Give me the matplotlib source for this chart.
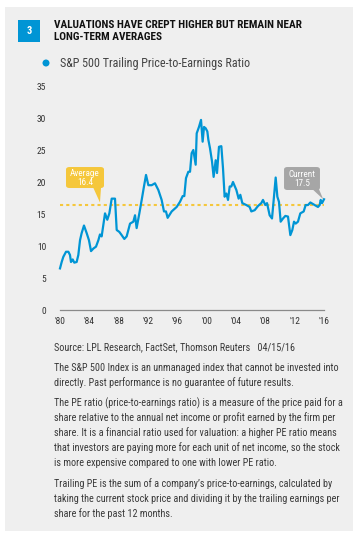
import matplotlib
matplotlib.use("Agg")
import matplotlib.pyplot as plt
from matplotlib.patches import FancyBboxPatch, Polygon, Rectangle, Ellipse
from matplotlib import font_manager

names = {f.name for f in font_manager.fontManager.ttflist}
NARROW = [n for n in ["Liberation Sans Narrow", "Roboto Condensed", "DejaVu Sans"] if n in names]
plt.rcParams['font.family'] = NARROW

# ---------------- data ----------------
years = [1980.0, 1980.23, 1980.45, 1980.82, 1981.14, 1981.36, 1981.5, 1981.73, 1981.95,
         1982.27, 1982.5, 1982.73, 1982.95, 1983.27, 1983.64, 1983.95, 1984.23, 1984.55,
         1984.91, 1985.23, 1985.45, 1985.68, 1985.91, 1986.14, 1986.45, 1986.73, 1987.05,
         1987.5, 1987.73, 1988.09, 1988.41, 1988.77, 1989.09, 1989.55, 1990.0, 1990.23,
         1990.45, 1990.82, 1991.14, 1991.45, 1991.73, 1992.05, 1992.5, 1992.95, 1993.41,
         1993.86, 1994.18, 1994.45, 1994.68, 1995.23, 1995.91, 1996.36, 1996.73, 1996.95,
         1997.18, 1997.5, 1997.73, 1997.95, 1998.18, 1998.5, 1998.64, 1998.95, 1999.23,
         1999.45, 1999.64, 1999.86, 2000.09, 2000.23, 2000.45, 2000.73, 2000.95, 2001.23,
         2001.41, 2001.68, 2002.0, 2002.23, 2002.45, 2002.68, 2002.91, 2003.14, 2003.36,
         2003.59, 2004.05, 2004.36, 2004.59, 2004.86, 2005.41, 2005.86, 2006.09, 2006.55,
         2007.0, 2007.45, 2007.68, 2008.0, 2008.23, 2008.59, 2008.91, 2009.14, 2009.41,
         2009.64, 2009.86, 2010.09, 2010.41, 2010.73, 2011.09, 2011.41, 2011.68, 2011.91,
         2012.14, 2012.45, 2012.77, 2013.23, 2013.5, 2013.82, 2014.14, 2014.73, 2015.18,
         2015.41, 2015.55, 2015.73, 2016.0]
pe = [6.5, 7.5, 8.3, 9.1, 9.1, 8.6, 7.5, 7.9, 7.4,
      7.5, 8.6, 10.9, 12.0, 13.2, 12.0, 10.9, 9.2, 9.6,
      9.9, 10.9, 11.8, 11.5, 13.3, 15.1, 14.1, 15.1, 17.4,
      17.4, 12.5, 12.2, 11.7, 11.1, 11.5, 13.5, 13.8, 14.8,
      12.8, 15.1, 17.2, 19.3, 21.1, 19.5, 19.5, 19.8, 18.75,
      17.2, 15.4, 15.4, 14.4, 15.4, 16.1, 16.9, 17.8, 17.8,
      20.6, 21.6, 21.6, 24.5, 25.0, 22.7, 27.6, 28.6, 29.7,
      26.3, 28.6, 28.4, 27.9, 26.6, 25.3, 23.2, 20.8, 23.4,
      21.4, 25.5, 25.6, 22.1, 17.7, 18.2, 17.2, 19.3, 19.3,
      20.0, 18.75, 17.4, 18.0, 16.7, 16.4, 16.1, 15.4, 15.6,
      16.25, 16.7, 17.2, 16.4, 16.7, 14.8, 14.3, 17.2, 20.7,
      17.7, 16.9, 13.8, 14.3, 14.7, 14.6, 11.7, 12.5, 13.8,
      13.5, 13.8, 15.1, 15.4, 16.4, 16.4, 16.8, 16.4, 16.1,
      16.4, 17.2, 16.7, 17.3]
average = 16.4
current = 17.5
yticks = [0, 5, 10, 15, 20, 25, 30, 35]
xticks = [1980, 1984, 1988, 1992, 1996, 2000, 2004, 2008, 2012, 2016]
xticklabels = ["'80", "'84", "'88", "'92", "'96", "'00", "'04", "'08", "'12", "'16"]

title_lines = ["VALUATIONS HAVE CREPT HIGHER BUT REMAIN NEAR", "LONG-TERM AVERAGES"]
legend_label = "S&P 500 Trailing Price-to-Earnings Ratio"
source = "Source: LPL Research, FactSet, Thomson Reuters   04/15/16"
para1 = ["The S&P 500 Index is an unmanaged index that cannot be invested into",
         "directly. Past performance is no guarantee of future results."]
para2 = ["The PE ratio (price-to-earnings ratio) is a measure of the price paid for a",
         "share relative to the annual net income or profit earned by the firm per",
         "share. It is a financial ratio used for valuation: a higher PE ratio means",
         "that investors are paying more for each unit of net income, so the stock",
         "is more expensive compared to one with lower PE ratio."]
para3 = ["Trailing PE is the sum of a company\u2019s price-to-earnings, calculated by",
         "taking the current stock price and dividing it by the trailing earnings per",
         "share for the past 12 months."]

# ---------------- styles ----------------
W, H = 360, 538
BLUE = "#0095D5"
YELLOW = "#F5C73B"
GRAYBOX = "#A6A6A6"
PANEL = "#EFEFEF"
TXT = "#3A3A3A"

def fx(px): return px / W
def fy(py): return 1 - py / H

fig = plt.figure(figsize=(W / 100, H / 100), dpi=100)
fig.patch.set_facecolor("white")

fig.patches.append(Rectangle((fx(5), fy(531)), fx(353) - fx(5), fy(7) - fy(531),
                             transform=fig.transFigure, facecolor=PANEL, edgecolor="none", zorder=-5))
fig.patches.append(Rectangle((fx(18), fy(42)), fx(40) - fx(18), fy(20) - fy(42),
                             transform=fig.transFigure, facecolor=BLUE, edgecolor="none", zorder=-4))
fig.text(fx(29), fy(31), "3", color="white", fontsize=7.5, fontweight="bold", ha="center", va="center")
fig.text(fx(54), fy(25), title_lines[0], color="#111111", fontsize=8.1, fontweight="bold", ha="left", va="center")
fig.text(fx(54), fy(37), title_lines[1], color="#111111", fontsize=8.1, fontweight="bold", ha="left", va="center")

fig.patches.append(Ellipse((fx(46), fy(63)), 7.0 / W, 7.0 / H, transform=fig.transFigure,
                           facecolor=BLUE, edgecolor="none", zorder=-3))
fig.text(fx(60), fy(63), legend_label, color="#444444", fontsize=8.7, ha="left", va="center")

ax = fig.add_axes([fx(60), fy(310), fx(324) - fx(60), fy(86) - fy(310)])
ax.set_facecolor("none")
ax.plot(years, pe, color=BLUE, lw=1.6, solid_joinstyle="round", clip_on=False, zorder=3)
ax.axhline(average, color=YELLOW, lw=1.5, ls=(0, (1.5, 1.5)), zorder=2)
ax.set_xlim(1980, 2016)
ax.set_ylim(0, 35)
ax.set_yticks(yticks)
ax.set_xticks(xticks)
ax.set_xticklabels(xticklabels)
for s in ["top", "right", "left"]:
    ax.spines[s].set_visible(False)
ax.spines["bottom"].set_color("#8A8A8A")
ax.spines["bottom"].set_linewidth(0.9)
ax.tick_params(axis="both", length=0, labelsize=6.8, labelcolor="#333333")
ax.tick_params(axis="y", pad=10)
ax.tick_params(axis="x", pad=5)

# callouts (data coords)
def callout(x0, x1, y0, y1, tail, color, text):
    box = FancyBboxPatch((x0, y0), x1 - x0, y1 - y0, boxstyle="round,pad=0,rounding_size=0.45",
                         mutation_aspect=0.9, facecolor=color, edgecolor="none", zorder=4, clip_on=False)
    ax.add_patch(box)
    ax.add_patch(Polygon(tail, closed=True, facecolor=color, edgecolor="none", zorder=4, clip_on=False))
    ax.text((x0 + x1) / 2, (y0 + y1) / 2, text, color="white", fontsize=6.6, ha="center", va="center",
            linespacing=1.0, zorder=5)

callout(1980.82, 1986.0, 19.06, 22.34,
        [(1984.5, 19.2), (1985.6, 19.2), (1985.45, 16.8)], YELLOW, "Average\n%.1f" % average)
callout(2010.55, 2015.45, 18.75, 22.34,
        [(2014.4, 18.9), (2015.3, 18.9), (2015.9, 17.3)], GRAYBOX, "Current\n%.1f" % current)

FS = 7.25
fig.text(fx(54), fy(347), source, color=TXT, fontsize=FS, ha="left", va="center")
y = 368
for ln in para1:
    fig.text(fx(54), fy(y), ln, color=TXT, fontsize=FS, ha="left", va="center"); y += 15
y = 403
for ln in para2:
    fig.text(fx(54), fy(y), ln, color=TXT, fontsize=FS, ha="left", va="center"); y += 15
y = 484
for ln in para3:
    fig.text(fx(54), fy(y), ln, color=TXT, fontsize=FS, ha="left", va="center"); y += 15

fig.savefig("out.png", dpi=100, facecolor="white")
